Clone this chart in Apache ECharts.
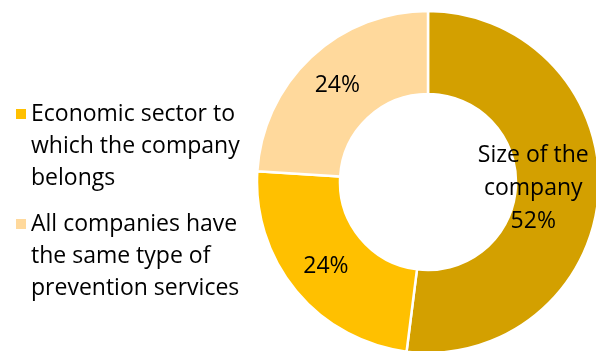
<!DOCTYPE html>
<html>
<head>
<meta charset="utf-8">
<script src="https://cdn.jsdelivr.net/npm/echarts@6/dist/echarts.min.js"></script>
<style>
  html, body { margin: 0; padding: 0; background: #ffffff; }
  #chart { width: 596px; height: 351px; }
</style>
</head>
<body>
<div id="chart"></div>
<script>
// Slice names, values (percent) and colours, in clockwise order from 12 o'clock
const categories = [
  'Size of the company',
  'Economic sector to which the company belongs',
  'All companies have the same type of prevention services'
];
const sliceValues = [52, 24, 24];
const sliceColors = ['#D3A000', '#FFC000', '#FFD99C'];

// Only the two smaller slices appear in the legend
const legendItems = [categories[1], categories[2]];

// Wrapped text for legend entries and the in-slice category label
const legendLines = {
  'Economic sector to which the company belongs': ['Economic sector to', 'which the company', 'belongs'],
  'All companies have the same type of prevention services': ['All companies have', 'the same type of', 'prevention services']
};
const sliceNameLines = {
  'Size of the company': ['Size of the', 'company']
};

const FONT = '"Open Sans", Lato, sans-serif';
const FONT_SIZE = 23;
const LINE_H = 32;

const chart = echarts.init(document.getElementById('chart'), null, { renderer: 'canvas' });

const data = categories.map((name, i) => {
  const item = {
    name: name,
    value: sliceValues[i],
    itemStyle: { color: sliceColors[i] }
  };
  if (sliceNameLines[name]) {
    // keep the long category label inside the slice, away from the edge
    item.label = { offset: [-27, -2] };
  }
  return item;
});

chart.setOption({
  animation: false,
  backgroundColor: '#ffffff',
  legend: {
    data: legendItems,
    orient: 'vertical',
    left: 11,
    top: 93,
    itemGap: 14,
    itemWidth: 10,
    itemHeight: 74,
    // square marker sitting level with the first text line
    icon: 'path://M0,0h10v10h-10z M0,74L10,74',
    itemStyle: { borderWidth: 0 },
    selectedMode: false,
    formatter: name => legendLines[name].join('\n'),
    textStyle: {
      fontFamily: FONT,
      fontSize: FONT_SIZE,
      lineHeight: LINE_H,
      color: '#000000',
      padding: [0, 0, 0, 0]
    }
  },
  series: [{
    type: 'pie',
    center: [428, 182],
    radius: [88, 171],
    startAngle: 90,
    clockwise: true,
    avoidLabelOverlap: false,
    silent: true,
    itemStyle: { borderColor: '#ffffff', borderWidth: 2.5 },
    label: {
      show: true,
      position: 'inside',
      fontFamily: FONT,
      fontSize: FONT_SIZE,
      lineHeight: 33,
      color: '#000000',
      textBorderWidth: 0,
      formatter: p => {
        const lines = sliceNameLines[p.name] ? sliceNameLines[p.name].slice() : [];
        lines.push(p.value + '%');
        return lines.join('\n');
      }
    },
    labelLine: { show: false },
    emphasis: { disabled: true },
    data: data
  }]
});
</script>
</body>
</html>
